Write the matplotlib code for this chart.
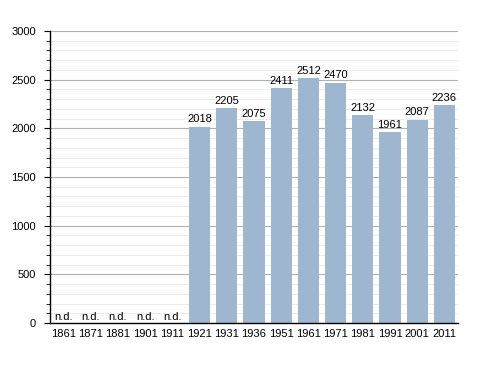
import matplotlib.pyplot as plt
from matplotlib.ticker import MultipleLocator

plt.rcParams['font.family'] = ['Liberation Sans', 'DejaVu Sans']

years = ['1861', '1871', '1881', '1901', '1911', '1921', '1931', '1936',
         '1951', '1961', '1971', '1981', '1991', '2001', '2011']
pop = [None, None, None, None, None, 2018, 2205, 2075,
       2411, 2512, 2470, 2132, 1961, 2087, 2236]

fig = plt.figure(figsize=(4.88, 3.73), dpi=100)
ax = fig.add_axes([0.1025, 0.134, 0.836, 0.783])

x = list(range(len(years)))
vals = [v if v is not None else 0 for v in pop]
ax.bar(x, vals, width=0.78, color='#9fb6d1', zorder=2)

for i, v in enumerate(pop):
    if v is None:
        ax.text(i, 15, 'n.d.', ha='center', va='bottom', fontsize=8)
    else:
        ax.text(i, v + 25, str(v), ha='center', va='bottom', fontsize=8)

ax.set_xlim(-0.5, len(years) - 0.5)
ax.set_ylim(0, 3000)
ax.set_xticks(x)
ax.set_xticklabels(years)
ax.yaxis.set_major_locator(MultipleLocator(500))
ax.yaxis.set_minor_locator(MultipleLocator(100))
ax.grid(axis='y', which='major', color='#b0b0b0', lw=0.8, zorder=0)
ax.grid(axis='y', which='minor', color='#ececec', lw=0.7, zorder=0)

for s in ['top', 'right']:
    ax.spines[s].set_visible(False)
ax.spines['left'].set_linewidth(1.0)
ax.spines['bottom'].set_linewidth(1.0)
ax.tick_params(axis='x', length=0, labelsize=8, pad=4)
ax.tick_params(axis='y', which='major', length=4, labelsize=8, pad=6)
ax.tick_params(axis='y', which='minor', length=3)

fig.savefig('out.png', dpi=100)
